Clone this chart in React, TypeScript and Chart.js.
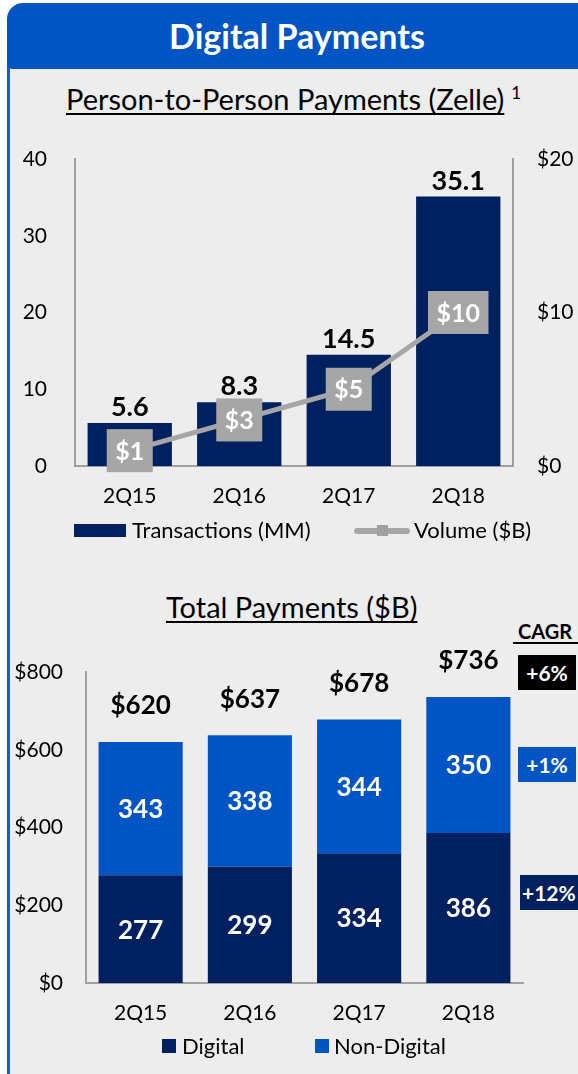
import React, { useEffect, useRef } from "react";
import { Chart, registerables } from "chart.js";

Chart.register(...registerables);

// ---------- data ----------
const quarters = ["2Q15", "2Q16", "2Q17", "2Q18"];
const zelleTransactions = [5.6, 8.3, 14.5, 35.1];
const zelleVolume = [1, 3, 5, 10];
const zelleTransactionTicks = [0, 10, 20, 30, 40];
const zelleVolumeTicks = [0, 10, 20];

const digitalPayments = [277, 299, 334, 386];
const nonDigitalPayments = [343, 338, 344, 350];
const totalPayments = [620, 637, 678, 736];
const paymentTicks = [0, 200, 400, 600, 800];
const cagrValues = ["+6%", "+1%", "+12%"];

// ---------- style ----------
const FONT = "Lato, 'Open Sans', sans-serif";
const NAVY = "#002060";
const BLUE = "#0054C4";
const GRAY = "#A6A6A6";
const AXIS = "#A0A0A0";
const PANEL = "#EDEDED";

const zelleLabelPlugin = {
  id: "zelleLabels",
  afterDatasetsDraw(chart: any) {
    const { ctx } = chart;
    const lineMeta = chart.getDatasetMeta(0);
    const barMeta = chart.getDatasetMeta(1);
    ctx.save();
    ctx.textAlign = "center";
    ctx.textBaseline = "alphabetic";
    ctx.fillStyle = "#000";
    ctx.font = `bold 27px ${FONT}`;
    barMeta.data.forEach((bar: any, i: number) => {
      ctx.fillText(String(zelleTransactions[i]), bar.x, bar.y - 7);
    });
    ctx.font = `bold 25px ${FONT}`;
    lineMeta.data.forEach((pt: any, i: number) => {
      const label = "$" + zelleVolume[i];
      const w = ctx.measureText(label).width + 17;
      const h = 43;
      ctx.fillStyle = GRAY;
      ctx.fillRect(pt.x - w / 2, pt.y - h / 2, w, h);
      ctx.fillStyle = "#fff";
      ctx.fillText(label, pt.x, pt.y + 9);
    });
    ctx.restore();
  },
};

const paymentLabelPlugin = {
  id: "paymentLabels",
  afterDatasetsDraw(chart: any) {
    const { ctx } = chart;
    const digMeta = chart.getDatasetMeta(0);
    const nonMeta = chart.getDatasetMeta(1);
    ctx.save();
    ctx.textAlign = "center";
    ctx.textBaseline = "alphabetic";
    ctx.font = `bold 26px ${FONT}`;
    const cap = 26 * 0.72;
    digMeta.data.forEach((bar: any, i: number) => {
      ctx.fillStyle = "#fff";
      ctx.fillText(String(digitalPayments[i]), bar.x, (bar.y + bar.base) / 2 + cap / 2);
    });
    nonMeta.data.forEach((bar: any, i: number) => {
      ctx.fillStyle = "#fff";
      ctx.fillText(String(nonDigitalPayments[i]), bar.x, (bar.y + bar.base) / 2 + cap / 2);
      ctx.fillStyle = "#000";
      ctx.fillText("$" + totalPayments[i], bar.x, bar.y - 37 + cap / 2);
    });
    ctx.restore();
  },
};

const fixV = (width: number) => (s: any) => {
  s.width = width;
  s.paddingTop = 0;
  s.paddingBottom = 0;
};
const fixH = (height: number) => (s: any) => {
  s.height = height;
  s.paddingLeft = 0;
  s.paddingRight = 0;
};

function ZelleChart() {
  const ref = useRef<HTMLCanvasElement | null>(null);
  useEffect(() => {
    if (!ref.current) return;
    const chart = new Chart(ref.current, {
      type: "bar",
      data: {
        labels: quarters,
        datasets: [
          {
            type: "line",
            label: "Volume ($B)",
            data: zelleVolume,
            yAxisID: "yVol",
            borderColor: GRAY,
            borderWidth: 5,
            pointRadius: 0,
            tension: 0,
            order: 0,
          } as any,
          {
            type: "bar",
            label: "Transactions (MM)",
            data: zelleTransactions,
            yAxisID: "yTx",
            backgroundColor: NAVY,
            barPercentage: 0.77,
            categoryPercentage: 1,
            order: 1,
          },
        ],
      },
      options: {
        responsive: false,
        animation: false,
        layout: { padding: { top: 29, left: 0, right: 0, bottom: 0 } },
        plugins: { legend: { display: false }, tooltip: { enabled: false } },
        scales: {
          x: {
            grid: { display: false, drawTicks: false },
            border: { display: true, color: AXIS, width: 2 },
            ticks: { color: "#000", font: { family: FONT, size: 21 }, padding: 18 },
            afterFit: fixH(54),
          },
          yTx: {
            position: "left",
            min: 0,
            max: 40,
            grid: { display: false, drawTicks: false },
            border: { display: true, color: AXIS, width: 2 },
            ticks: { color: "#000", font: { family: FONT, size: 21 }, padding: 28 },
            afterBuildTicks: (s: any) => {
              s.ticks = zelleTransactionTicks.map((v) => ({ value: v }));
            },
            afterFit: fixV(75),
          },
          yVol: {
            position: "right",
            min: 0,
            max: 20,
            grid: { display: false, drawTicks: false },
            border: { display: true, color: AXIS, width: 2 },
            ticks: {
              color: "#000",
              font: { family: FONT, size: 21 },
              padding: 24,
              callback: (v: any) => "$" + v,
            },
            afterBuildTicks: (s: any) => {
              s.ticks = zelleVolumeTicks.map((v) => ({ value: v }));
            },
            afterFit: fixV(65),
          },
        },
      } as any,
      plugins: [zelleLabelPlugin],
    });
    return () => chart.destroy();
  }, []);
  return (
    <canvas
      ref={ref}
      width={578}
      height={390}
      style={{ position: "absolute", left: 0, top: 130, width: 578, height: 390 }}
    />
  );
}

function PaymentsChart() {
  const ref = useRef<HTMLCanvasElement | null>(null);
  useEffect(() => {
    if (!ref.current) return;
    const chart = new Chart(ref.current, {
      type: "bar",
      data: {
        labels: quarters,
        datasets: [
          {
            label: "Digital",
            data: digitalPayments,
            backgroundColor: NAVY,
            stack: "s",
            barPercentage: 0.77,
            categoryPercentage: 1,
          },
          {
            label: "Non-Digital",
            data: nonDigitalPayments,
            backgroundColor: BLUE,
            stack: "s",
            barPercentage: 0.77,
            categoryPercentage: 1,
          },
        ],
      },
      options: {
        responsive: false,
        animation: false,
        layout: { padding: { top: 22, left: 0, right: 55, bottom: 0 } },
        plugins: { legend: { display: false }, tooltip: { enabled: false } },
        scales: {
          x: {
            stacked: true,
            grid: { display: false, drawTicks: false },
            border: { display: true, color: AXIS, width: 2 },
            ticks: { color: "#000", font: { family: FONT, size: 21 }, padding: 18 },
            afterFit: fixH(57),
          },
          y: {
            stacked: true,
            min: 0,
            max: 800,
            grid: { display: false, drawTicks: false },
            border: { display: true, color: AXIS, width: 2 },
            ticks: {
              color: "#000",
              font: { family: FONT, size: 21 },
              padding: 23,
              callback: (v: any) => "$" + v,
            },
            afterBuildTicks: (s: any) => {
              s.ticks = paymentTicks.map((v) => ({ value: v }));
            },
            afterFit: fixV(86),
          },
        },
      } as any,
      plugins: [paymentLabelPlugin],
    });
    return () => chart.destroy();
  }, []);
  return (
    <canvas
      ref={ref}
      width={578}
      height={390}
      style={{ position: "absolute", left: 0, top: 650, width: 578, height: 390 }}
    />
  );
}

const abs = (o: React.CSSProperties): React.CSSProperties => ({ position: "absolute", ...o });

const underline: React.CSSProperties = {
  textDecoration: "underline",
  textDecorationThickness: "2px",
  textUnderlineOffset: "3px",
  textDecorationSkipInk: "none" as any,
};

export default function App() {
  return (
    <div
      style={{
        position: "absolute",
        left: 0,
        top: 0,
        width: 578,
        height: 1074,
        overflow: "hidden",
        background: "#fff",
        fontFamily: FONT,
        color: "#000",
      }}
    >
      {/* panel */}
      <div style={abs({ left: 7, top: 60, width: 620, height: 1100, background: PANEL, borderLeft: "3px solid #1D5BCB" })} />
      {/* header */}
      <div style={abs({ left: 7, top: 3, width: 620, height: 66, background: BLUE, borderRadius: "16px 16px 5px 5px" })} />
      <div
        style={abs({
          left: 7,
          top: 3,
          width: 580,
          height: 66,
          lineHeight: "66px",
          textAlign: "center",
          color: "#fff",
          fontWeight: 700,
          fontSize: 34,
        })}
      >
        Digital Payments
      </div>

      {/* subtitle 1 */}
      <div style={abs({ left: 66, top: 81, height: 36, lineHeight: "36px", fontSize: 29, whiteSpace: "nowrap" })}>
        <span style={underline}>Person-to-Person Payments (Zelle)</span>
        <span style={{ fontSize: 17, verticalAlign: "top", lineHeight: "24px", marginLeft: 7 }}>1</span>
      </div>

      <ZelleChart />

      {/* legend 1 */}
      <div style={abs({ left: 74, top: 524, width: 52, height: 13, background: NAVY })} />
      <div style={abs({ left: 132, top: 516, height: 28, lineHeight: "28px", fontSize: 22, whiteSpace: "nowrap" })}>
        Transactions (MM)
      </div>
      <div style={abs({ left: 354, top: 528, width: 56, height: 6, background: GRAY, borderRadius: 3 })} />
      <div style={abs({ left: 377, top: 525, width: 11, height: 11, background: "#A0A0A0" })} />
      <div style={abs({ left: 414, top: 516, height: 28, lineHeight: "28px", fontSize: 22, whiteSpace: "nowrap" })}>
        Volume ($B)
      </div>

      {/* subtitle 2 */}
      <div style={abs({ left: 166, top: 589, height: 36, lineHeight: "36px", fontSize: 29, whiteSpace: "nowrap" })}>
        <span style={underline}>Total Payments ($B)</span>
      </div>

      {/* CAGR */}
      <div style={abs({ left: 518, top: 619, height: 24, lineHeight: "24px", fontSize: 20, fontWeight: 700, whiteSpace: "nowrap" })}>
        CAGR
      </div>
      <div style={abs({ left: 513, top: 642, width: 70, height: 2, background: "#000" })} />
      <div
        style={abs({
          left: 518,
          top: 655,
          width: 58,
          height: 35,
          lineHeight: "35px",
          background: "#000",
          color: "#fff",
          fontSize: 21,
          fontWeight: 700,
          textAlign: "center",
        })}
      >
        {cagrValues[0]}
      </div>
      <div
        style={abs({
          left: 518,
          top: 747,
          width: 58,
          height: 35,
          lineHeight: "35px",
          background: BLUE,
          color: "#fff",
          fontSize: 21,
          fontWeight: 700,
          textAlign: "center",
        })}
      >
        {cagrValues[1]}
      </div>
      <div
        style={abs({
          left: 520,
          top: 875,
          width: 62,
          height: 35,
          lineHeight: "35px",
          background: NAVY,
          color: "#fff",
          fontSize: 21,
          fontWeight: 700,
          textAlign: "left",
          paddingLeft: 2,
          whiteSpace: "nowrap",
          boxSizing: "border-box",
        })}
      >
        {cagrValues[2]}
      </div>

      <PaymentsChart />

      {/* legend 2 */}
      <div style={abs({ left: 162, top: 1039, width: 14, height: 14, background: NAVY })} />
      <div style={abs({ left: 182, top: 1032, height: 28, lineHeight: "28px", fontSize: 22, whiteSpace: "nowrap" })}>
        Digital
      </div>
      <div style={abs({ left: 315, top: 1039, width: 14, height: 14, background: BLUE })} />
      <div style={abs({ left: 334, top: 1032, height: 28, lineHeight: "28px", fontSize: 22, whiteSpace: "nowrap" })}>
        Non-Digital
      </div>
    </div>
  );
}
